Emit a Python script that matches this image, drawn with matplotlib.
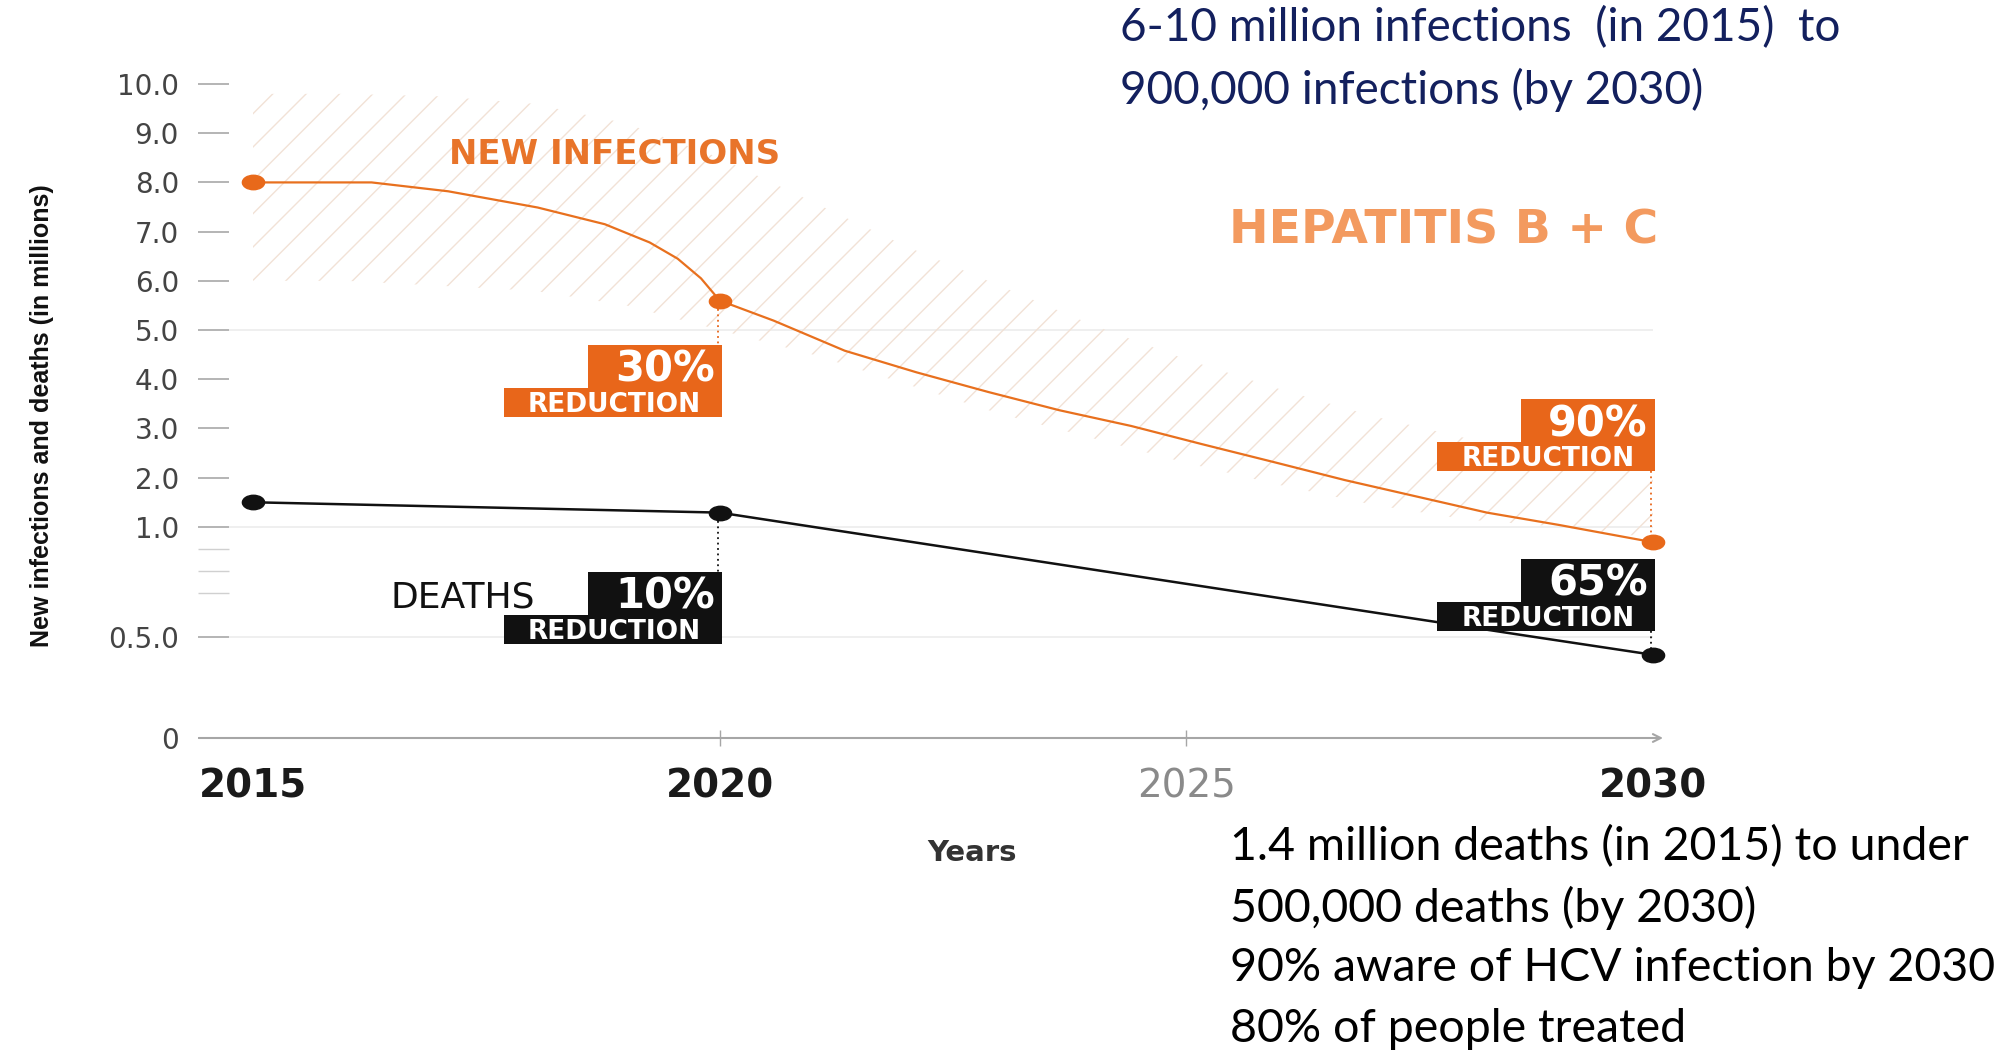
import numpy as np
import matplotlib
matplotlib.use('Agg')
import matplotlib.pyplot as plt
from matplotlib.path import Path
from matplotlib.transforms import Affine2D, IdentityTransform
from matplotlib.patches import Rectangle
from matplotlib.lines import Line2D

# ---- data (values in millions) ----
year_ticks = [2015, 2020, 2025, 2030]
year_labels = ['2015', '2020', '2025', '2030']

# new infections curve
inf_years = [2015, 2016.27, 2017.09, 2018.05, 2018.77, 2019.25, 2019.55, 2019.8, 2020,
             2020.58, 2021.34, 2022.11, 2022.88, 2023.64, 2024.41, 2025.17,
             2025.93, 2026.70, 2027.46, 2028.22, 2028.99, 2030]
inf_values = [8.0, 8.0, 7.82, 7.49, 7.15, 6.78, 6.45, 6.05, 5.6,
              5.19, 4.58, 4.14, 3.74, 3.37, 3.05, 2.68,
              2.32, 1.95, 1.62, 1.29, 1.04, 0.93]
inf_mark_years = [2015, 2020, 2030]
inf_mark_values = [8.0, 5.6, 0.93]

# deaths line
death_years = [2015, 2020, 2021.0, 2028.7, 2030]
death_values = [1.5, 1.29, 1.0, 0.5, 0.41]
death_mark_years = [2015, 2020, 2030]
death_mark_values = [1.5, 1.29, 0.41]

# hatched range around new infections
band_years = [2015, 2016, 2017, 2018, 2019, 2020, 2021, 2022, 2023, 2024, 2025, 2026, 2027, 2028, 2029, 2030]
band_upper = [9.8, 9.8, 9.75, 9.6, 9.2, 8.5, 7.6, 6.7, 5.9, 5.1, 4.4, 3.8, 3.25, 2.8, 2.4, 2.1]
band_lower = [6.0, 6.0, 5.9, 5.8, 5.5, 5.0, 4.5, 3.9, 3.3, 2.8, 2.3, 1.85, 1.45, 1.15, 1.0, 0.95]

ytick_values = [0, 0.5, 1, 2, 3, 4, 5, 6, 7, 8, 9, 10]
ytick_labels = ['0', '0.5.0', '1.0', '2.0', '3.0', '4.0', '5.0', '6.0', '7.0', '8.0', '9.0', '10.0']
yminor_values = [0.7, 0.8, 0.9]

red_years = [2020, 2020, 2030, 2030]
red_values = [5.6, 1.29, 0.93, 0.41]
red_pcts = ['30%', '10%', '90%', '65%']

ORANGE = '#E8701E'
BLACK = '#111111'

W, H = 2013, 1054
fig = plt.figure(figsize=(W / 100, H / 100), dpi=100)
fig.patch.set_facecolor('white')

def fx(px):
    return px / W

def fy(py):
    return 1 - py / H

# axes box in pixels: left 229, right 1663, y=0 at 738, y=10 at 84
ax = fig.add_axes([fx(229), fy(738), fx(1663 - 229), (738 - 84) / H])

# the y axis is stretched below 1.0
scale_vals = [0, 0.5, 1, 10]
scale_pos = [0, 101.4, 211, 653.6]

def fwd(v):
    return np.interp(v, scale_vals, scale_pos)

def inv(p):
    return np.interp(p, scale_pos, scale_vals)

ax.set_yscale('function', functions=(fwd, inv))
ax.set_ylim(0, 10)
px_per_year = 1400 / 15.0
ax.set_xlim(2015 - 24 / px_per_year, 2030 + 10 / px_per_year)

for s in ax.spines.values():
    s.set_visible(False)

# faint reference lines
for g in [0.5, 1.0, 5.0]:
    ax.hlines(g, ax.get_xlim()[0], 2030, color='#ececec', lw=1.2, zorder=0)

# hatched band
plt.rcParams['hatch.linewidth'] = 1.0
ax.fill_between(band_years, band_lower, band_upper, facecolor='none',
                edgecolor='#f2e2d6', linewidth=0, hatch='/', zorder=1)

# elliptical markers (the source graphic is stretched sideways)
ell = Path.unit_circle().transformed(Affine2D().scale(1.0, 0.65))

ax.plot(inf_years, inf_values, color=ORANGE, lw=1.6, zorder=3, clip_on=False)
ax.plot(inf_mark_years, inf_mark_values, ls='none', marker=ell, ms=16,
        color='#E8691A', zorder=4, clip_on=False)
ax.plot(death_years, death_values, color=BLACK, lw=1.8, zorder=3, clip_on=False)
ax.plot(death_mark_years, death_mark_values, ls='none', marker=ell, ms=16,
        color=BLACK, zorder=4, clip_on=False)

# y axis ticks
ax.set_yticks(ytick_values)
ax.set_yticklabels(ytick_labels)
ax.set_yticks(yminor_values, minor=True)
ax.tick_params(axis='y', which='major', direction='out', length=22, width=1.1,
               color='#a0a0a0', pad=14, labelsize=20, labelcolor='#444444')
ax.tick_params(axis='y', which='minor', direction='out', length=22, width=1.0,
               color='#d0d0d0')

# x axis
ax.set_xticks(year_ticks)
ax.set_xticklabels(year_labels)
ax.tick_params(axis='x', direction='inout', length=12, width=1.0, color='#a6a6a6',
               pad=15, labelsize=28)
for lab in ax.get_xticklabels():
    if lab.get_text() == '2025':
        lab.set_color('#8a8a8a')
    else:
        lab.set_fontweight('bold')
        lab.set_color('#1a1a1a')
xt = ax.xaxis.get_major_ticks()
xt[0].tick1line.set_visible(False)
xt[-1].tick1line.set_visible(False)

ax.annotate('', xy=(ax.get_xlim()[1], 0), xytext=(2015 - 54 / px_per_year, 0),
            xycoords='data', annotation_clip=False,
            arrowprops=dict(arrowstyle='->', color='#a6a6a6', lw=1.5,
                            mutation_scale=14, shrinkA=0, shrinkB=0))

# reduction labels: boxes placed in pixels relative to the markers
box_offsets = [44, 59, -143, -96]   # px down from marker to top of label
for year, val, pct, off in zip(red_years, red_values, red_pcts, box_offsets):
    col = '#E8661A' if val in inf_mark_values else BLACK
    mx, my = ax.transData.transform((year, val))
    right = mx + 2
    top = my - off
    top_w, top_h, bot_w, bot_h = 134, 43, 218, 29
    fig.add_artist(Rectangle((right - top_w, top - top_h), top_w, top_h,
                             transform=IdentityTransform(), facecolor=col, lw=0, zorder=5))
    fig.add_artist(Rectangle((right - bot_w, top - top_h - bot_h), bot_w, bot_h,
                             transform=IdentityTransform(), facecolor=col, lw=0, zorder=5))
    fig.text(right - 7, top - top_h + 6, pct, transform=IdentityTransform(),
             ha='right', va='baseline', color='white', fontsize=30,
             fontweight='bold', zorder=6)
    fig.text(right - bot_w / 2 + 2, top - top_h - bot_h + 5, 'REDUCTION',
             transform=IdentityTransform(), ha='center', va='baseline',
             color='white', fontsize=19, fontweight='bold', zorder=6)
    if off > 0:
        y1, y2 = my - 8, top
    else:
        y1, y2 = top - top_h - bot_h, my + 7
    fig.add_artist(Line2D([mx - 2, mx - 2], [y1, y2], transform=IdentityTransform(),
                          color=col, lw=1.3, ls=(0, (1, 2)), zorder=5))

# chart texts
fig.text(fx(449), fy(155), 'NEW INFECTIONS', ha='left', va='center',
         fontsize=24.5, fontweight='bold', color='#E8742A')
fig.text(fx(1658), fy(231), 'HEPATITIS B + C', ha='right', va='center',
         fontsize=34, fontweight='bold', color='#F39A5F')
fig.text(fx(535), fy(598), 'DEATHS', ha='right', va='center',
         fontsize=26, color=BLACK)
fig.text(fx(972), fy(853), 'Years', ha='center', va='center',
         fontsize=21, fontweight='bold', color='#333333')
fig.text(fx(42), fy(416), 'New infections and deaths (in millions)', rotation=90,
         ha='center', va='center', fontsize=18, fontweight='bold', color=BLACK,
         family=['Liberation Sans', 'DejaVu Sans'])

# side notes
note_font = ['Lato', 'DejaVu Sans']
fig.text(fx(1120), fy(28), '6-10 million infections  (in 2015)  to', ha='left', va='center',
         fontsize=33, color='#13205E', family=note_font)
fig.text(fx(1120), fy(90), '900,000 infections (by 2030)', ha='left', va='center',
         fontsize=33, color='#13205E', family=note_font)
notes = ['1.4 million deaths (in 2015) to under', '500,000 deaths (by 2030)',
         '90% aware of HCV infection by 2030', '80% of people treated']
for i, line in enumerate(notes):
    fig.text(fx(1230), fy(847 + 60.5 * i), line, ha='left', va='center',
             fontsize=33.5, color='black', family=note_font)

fig.savefig('out.png', dpi=100, facecolor='white')
